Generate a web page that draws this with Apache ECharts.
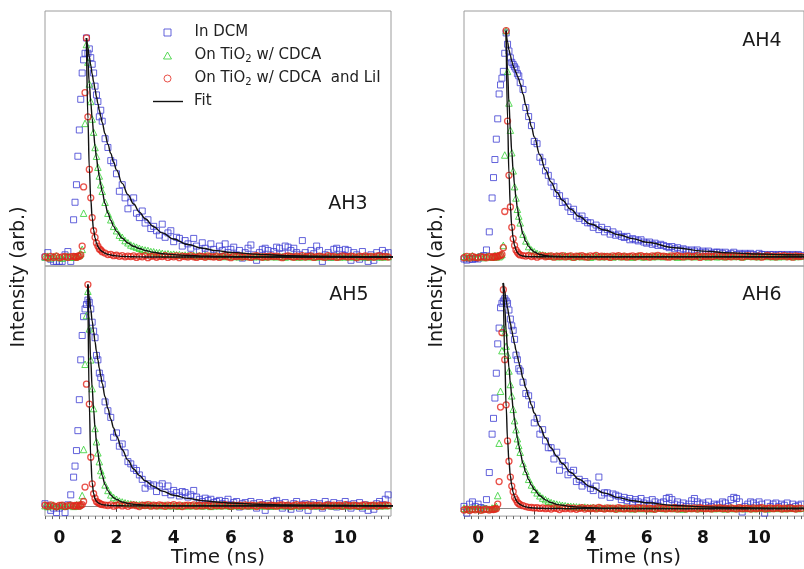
<!DOCTYPE html>
<html>
<head>
<meta charset="utf-8">
<script src="https://cdn.jsdelivr.net/npm/echarts@6/dist/echarts.min.js"></script>
<style>
  html, body { margin: 0; padding: 0; background: #fff; }
  #chart { width: 804px; height: 569px; }
</style>
</head>
<body>
<div id="chart"></div>
<script>
// ---- time grids (ns) ----
const T = [-0.5,-0.4,-0.3,-0.2,-0.1,0,0.1,0.2,0.3,0.4,0.5,
  0.55,0.6,0.65,0.7,0.75,0.8,0.85,0.9,0.95,1,1.05,1.1,1.15,1.2,1.25,1.3,1.35,1.4,1.45,1.5,
  1.6,1.7,1.8,1.9,2,2.1,2.2,2.3,2.4,2.5,
  2.6,2.7,2.8,2.9,3,3.1,3.2,3.3,3.4,3.5,
  3.6,3.7,3.8,3.9,4,4.1,4.2,4.3,4.4,4.5,
  4.6,4.7,4.8,4.9,5,5.1,5.2,5.3,5.4,5.5,
  5.6,5.7,5.8,5.9,6,6.1,6.2,6.3,6.4,6.5,
  6.6,6.7,6.8,6.9,7,7.1,7.2,7.3,7.4,7.5,
  7.6,7.7,7.8,7.9,8,8.1,8.2,8.3,8.4,8.5,
  8.6,8.7,8.8,8.9,9,9.1,9.2,9.3,9.4,9.5,
  9.6,9.7,9.8,9.9,10,10.1,10.2,10.3,10.4,10.5,
  10.6,10.7,10.8,10.9,11,11.1,11.2,11.3,11.4,11.5];

const FIT_T = [0.9,0.95,1,1.05,1.1,1.15,1.2,1.25,1.3,1.35,1.4,1.45,1.5,1.6,1.7,1.8,1.9,2,
  2.2,2.4,2.6,2.8,3,3.3,3.6,4,4.5,5,5.5,6,7,8,9,10,11,12];

const X_TICKS = [0, 2, 4, 6, 8, 10];
const X_MINOR_TICKS = [-0.5,-0.25,0,0.25,0.5,0.75,1,1.25,1.5,1.75,2,2.25,2.5,2.75,3,3.25,3.5,3.75,
  4,4.25,4.5,4.75,5,5.25,5.5,5.75,6,6.25,6.5,6.75,7,7.25,7.5,7.75,8,8.25,8.5,8.75,
  9,9.25,9.5,9.75,10,10.25,10.5,10.75,11,11.25,11.5];

const SERIES_NAMES = ['In DCM', 'On TiO2 w/ CDCA', 'On TiO2 w/ CDCA  and LiI', 'Fit'];
const PANEL_LABELS = ['AH3', 'AH4', 'AH5', 'AH6'];
const X_TITLE = 'Time (ns)';
const Y_TITLE = 'Intensity (arb.)';

// ---- AH3 ----
const AH3_DCM = [0.00,0.02,-0.01,-0.02,-0.02,-0.02,-0.02,0.01,0.025,-0.02,0.17,
  0.25,0.33,0.46,0.58,0.72,0.84,0.90,0.93,1.00,0.93,0.95,0.91,0.88,0.84,0.78,0.74,0.71,0.64,0.67,0.62,
  0.54,0.50,0.44,0.43,0.38,0.30,0.33,0.27,0.22,0.25,
  0.27,0.20,0.18,0.21,0.155,0.17,0.13,0.14,0.12,0.10,
  0.15,0.09,0.11,0.12,0.07,0.09,0.085,0.05,0.075,0.06,
  0.04,0.085,0.05,0.03,0.065,0.04,0.02,0.06,0.035,0.015,
  0.05,0.03,0.06,0.02,0.035,0.045,0.01,0.03,-0.005,0.02,
  0.04,0.055,0.01,-0.015,0.02,0.035,0.04,0.03,0.01,0.025,
  0.045,0.04,0.015,0.05,0.045,0.03,0.04,0.02,0.01,0.075,
  0.02,0.005,0.03,0.015,0.05,0.03,-0.02,0.01,0.02,0.0,
  0.035,0.04,0.03,0.01,0.035,0.03,-0.015,0.02,0.01,-0.01,
  0.025,0.0,-0.02,0.01,-0.015,0.02,0.005,0.03,0.015,0.02];
const AH3_CDCA = [0.0,0.004,-0.004,0.002,0.005,-0.002,-0.005,0.001,0.004,-0.001,0.002,
  0.0,0.003,0.005,0.008,0.015,0.035,0.20,0.61,0.97,0.89,0.79,0.71,0.63,0.57,0.50,0.46,0.41,0.37,0.33,0.30,
  0.25,0.20,0.17,0.14,0.12,0.10,0.09,0.075,0.065,0.055,
  0.05,0.045,0.04,0.035,0.032,0.03,0.025,0.024,0.02,0.02,
  0.017,0.014,0.015,0.012,0.013,0.01,0.011,0.008,0.009,0.007,
  0.006,0.008,0.005,0.006,0.004,0.007,0.003,0.005,0.004,0.006,
  0.003,0.005,0.002,0.004,0.006,0.002,0.004,0.001,0.005,0.003,
  0.002,0.004,0.001,0.005,0.002,0.003,0.0,0.004,0.002,0.003,
  0.001,0.004,0.002,0.0,0.003,0.005,0.001,0.003,0.0,0.002,
  0.004,0.001,0.003,0.002,0.0,0.004,0.002,0.001,0.003,0.0,
  0.002,0.004,0.0,0.003,0.001,0.002,0.004,0.0,0.002,0.003,
  0.001,0.003,0.0,0.002,0.004,0.001,0.002,0.0,0.003,0.002];
const AH3_LII = [0.002,-0.004,0.003,-0.002,0.004,-0.003,0.001,0.003,-0.002,0.002,0.003,
  0.002,-0.002,0.004,0.003,0.01,0.05,0.32,0.75,1.0,0.64,0.40,0.27,0.18,0.12,0.09,0.064,0.05,0.037,0.032,0.024,
  0.018,0.011,0.012,0.006,0.008,0.003,0.006,0.001,0.004,0.002,
  0.005,-0.002,0.004,0.001,0.006,-0.003,0.003,0.005,-0.001,0.004,
  0.002,0.006,-0.002,0.003,0.001,0.005,-0.003,0.004,0.002,0.0,
  0.006,0.001,-0.002,0.004,0.003,-0.001,0.005,0.002,0.0,0.004,
  -0.002,0.003,0.006,0.001,-0.003,0.004,0.002,0.005,0.0,0.003,
  0.001,-0.002,0.004,0.006,0.002,-0.001,0.003,0.0,0.005,0.002,
  0.004,0.001,-0.003,0.003,0.005,0.002,-0.001,0.004,0.001,0.006,
  0.0,0.003,0.005,-0.002,0.002,0.004,0.001,-0.001,0.006,0.002,
  0.003,-0.002,0.001,0.005,0.003,0.0,0.004,0.002,-0.003,0.004,
  0.002,0.005,0.0,0.003,-0.001,0.004,0.006,0.001,0.003,0.0];
const AH3_FIT_DCM = [null,1.0,0.956,0.914,0.875,0.836,0.80,0.765,0.732,0.70,0.67,0.641,0.614,
  0.563,0.515,0.473,0.433,0.398,0.336,0.285,0.242,0.205,0.175,0.138,0.11,0.082,0.057,0.04,0.029,0.021,
  0.012,0.006,0.0036,0.0022,0.0013,0.0008];
const AH3_FIT_CDCA = [null,1.0,0.891,0.793,0.707,0.633,0.565,0.506,0.454,0.408,0.367,0.33,0.298,
  0.244,0.201,0.168,0.14,0.117,0.086,0.064,0.049,0.039,0.03,0.022,0.015,0.011,0.0067,0.0043,0.0027,0.0017,
  0.0007,0.0003,0.0001,0,0,0];
const AH3_FIT_LII = [null,1.0,0.633,0.406,0.266,0.179,0.123,0.087,0.064,0.048,0.038,0.03,0.025,
  0.017,0.012,0.009,0.007,0.005,0.003,0.002,0.001,0.0007,0.0004,0.0002,0.0001,0,0,0,0,0,
  0,0,0,0,0,0];

// ---- AH4 ----
const AH4_DCM = [-0.01,-0.015,-0.01,-0.012,-0.008,-0.01,0.0,0.005,0.03,0.11,0.26,
  0.35,0.43,0.52,0.61,0.72,0.76,0.79,0.82,0.90,0.99,0.94,0.91,0.88,0.86,0.85,0.84,0.83,0.81,0.80,0.77,
  0.74,0.66,0.62,0.58,0.51,0.50,0.44,0.42,0.38,0.36,
  0.33,0.31,0.28,0.27,0.24,0.245,0.22,0.20,0.21,0.18,
  0.17,0.18,0.16,0.15,0.15,0.13,0.14,0.12,0.13,0.11,
  0.12,0.10,0.11,0.095,0.10,0.09,0.085,0.09,0.075,0.08,
  0.075,0.07,0.075,0.065,0.06,0.065,0.055,0.06,0.05,0.055,
  0.05,0.045,0.04,0.045,0.035,0.04,0.03,0.035,0.03,0.025,
  0.03,0.025,0.03,0.02,0.025,0.02,0.025,0.015,0.02,0.02,
  0.02,0.015,0.02,0.01,0.015,0.02,0.01,0.015,0.01,0.015,
  0.01,0.015,0.01,0.005,0.015,0.01,0.01,0.005,0.01,0.01,
  0.005,0.01,0.01,0.005,0.01,0.005,0.01,0.005,0.01,0.005];
const AH4_CDCA = [0.002,-0.003,0.001,0.004,-0.002,0.0,0.003,-0.004,0.002,0.001,-0.002,
  0.0,0.005,0.0,0.005,0.0,0.005,0.01,0.05,0.45,1.0,0.82,0.68,0.56,0.46,0.38,0.31,0.26,0.21,0.18,0.15,
  0.10,0.07,0.045,0.03,0.022,0.015,0.01,0.008,0.006,0.004,
  0.003,0.001,0.004,0.0,0.002,0.005,0.001,0.003,-0.001,0.002,
  0.004,0.0,0.002,0.003,-0.002,0.001,0.004,0.002,0.0,0.003,
  0.001,0.003,-0.001,0.002,0.004,0.0,0.003,0.001,0.002,-0.002,
  0.002,0.004,0.001,-0.001,0.003,0.002,0.0,0.004,0.001,0.003,
  0.0,0.002,0.004,0.001,0.003,-0.002,0.002,0.0,0.003,0.001,
  0.003,0.0,0.002,0.004,0.001,0.002,-0.001,0.003,0.002,0.0,
  0.001,0.003,0.0,0.002,0.004,0.001,0.003,0.002,-0.001,0.002,
  0.004,0.002,0.001,0.003,0.0,0.002,0.004,0.001,0.003,0.0,
  0.002,0.0,0.003,0.001,0.004,0.002,0.0,0.003,0.001,0.002];
const AH4_LII = [-0.004,0.002,-0.006,0.001,-0.003,-0.005,0.0,-0.002,-0.004,0.001,-0.003,
  0.001,-0.002,0.003,0.0,0.004,0.006,0.01,0.04,0.2,1.0,0.60,0.36,0.22,0.13,0.08,0.05,0.03,0.02,0.012,0.008,
  0.005,0.003,0.006,0.001,0.004,-0.002,0.003,0.005,0.0,0.002,
  0.004,-0.002,0.003,0.001,0.005,-0.001,0.002,0.004,-0.003,0.003,
  0.001,0.005,0.0,-0.002,0.004,0.002,0.006,-0.001,0.003,0.0,
  0.002,-0.003,0.004,0.001,0.005,0.0,0.003,-0.002,0.002,0.004,
  -0.001,0.003,0.005,0.0,0.002,-0.002,0.004,0.001,0.006,0.002,
  0.003,0.0,-0.002,0.004,0.001,0.005,0.002,-0.001,0.003,0.004,
  0.0,0.002,0.005,-0.003,0.003,0.001,0.004,0.0,0.002,0.006,
  0.002,0.004,-0.001,0.003,0.0,0.005,0.001,0.003,-0.002,0.002,
  0.005,0.001,0.003,0.0,0.004,-0.002,0.002,0.006,0.001,0.003,
  -0.001,0.004,0.002,0.005,0.0,0.003,-0.002,0.004,0.001,0.002];
const AH4_FIT_DCM = [null,null,1.0,0.95,0.915,0.89,0.865,0.845,0.83,0.815,0.80,0.785,0.765,
  0.72,0.67,0.62,0.575,0.53,0.45,0.385,0.33,0.285,0.25,0.21,0.178,0.145,0.118,0.097,0.08,0.064,
  0.04,0.025,0.017,0.012,0.009,0.007];
const AH4_FIT_CDCA = [null,null,1.0,0.825,0.681,0.562,0.463,0.382,0.316,0.26,0.215,0.177,0.146,
  0.10,0.068,0.046,0.031,0.021,0.01,0.005,0.002,0.001,0.0005,0.0002,0.0001,0,0,0,0,0,
  0,0,0,0,0,0];
const AH4_FIT_LII = [null,null,1.0,0.607,0.368,0.223,0.135,0.082,0.05,0.03,0.018,0.011,0.007,
  0.003,0.001,0.0005,0.0002,0.0001,0,0,0,0,0,0,0,0,0,0,0,0,
  0,0,0,0,0,0];

// ---- AH5 ----
const AH5_DCM = [0.01,0.0,-0.02,-0.01,-0.03,-0.01,0.0,-0.03,0.005,0.05,0.13,
  0.18,0.25,0.34,0.48,0.66,0.77,0.855,0.89,0.91,0.93,0.92,0.89,0.83,0.79,0.76,0.68,0.66,0.60,0.58,0.55,
  0.47,0.43,0.40,0.31,0.33,0.27,0.28,0.24,0.20,0.19,
  0.17,0.16,0.14,0.12,0.08,0.10,0.09,0.095,0.065,0.09,
  0.10,0.06,0.09,0.05,0.07,0.06,0.045,0.065,0.06,0.04,
  0.05,0.07,0.04,0.03,0.02,0.035,0.025,0.03,0.015,0.02,
  0.025,0.01,0.02,0.03,0.005,0.015,0.02,-0.005,0.01,0.015,
  0.0,0.02,0.01,-0.01,0.015,0.005,-0.02,0.01,0.0,0.02,
  0.025,0.01,-0.01,0.015,0.0,-0.015,0.01,0.02,-0.01,0.005,
  0.01,-0.02,0.005,0.015,0.0,0.01,-0.01,0.02,0.005,0.0,
  0.015,-0.005,0.01,0.0,0.02,0.005,-0.01,0.01,0.0,0.015,
  -0.01,0.005,-0.02,0.0,-0.015,0.01,0.02,0.005,0.03,0.05];
const AH5_CDCA = [0.001,-0.003,0.002,0.004,-0.002,0.0,0.003,-0.001,0.002,0.004,-0.002,
  0.0,0.005,0.0,0.005,0.01,0.047,0.255,0.64,0.86,0.97,0.80,0.66,0.53,0.44,0.35,0.29,0.24,0.20,0.16,0.14,
  0.095,0.07,0.05,0.038,0.03,0.022,0.018,0.014,0.011,0.009,
  0.007,0.006,0.005,0.004,0.004,0.003,0.005,0.002,0.003,0.001,
  0.002,0.004,0.0,0.003,0.001,0.002,-0.001,0.003,0.002,0.0,
  0.003,0.001,0.004,0.002,0.0,0.002,0.003,-0.002,0.001,0.004,
  0.0,0.002,0.003,0.001,-0.001,0.004,0.002,0.0,0.003,0.001,
  0.004,0.0,0.002,0.003,0.001,0.002,0.0,0.004,-0.001,0.002,
  0.001,0.003,0.0,0.002,0.004,-0.002,0.003,0.001,0.002,0.0,
  0.003,0.002,0.004,0.0,0.001,0.003,-0.001,0.002,0.004,0.001,
  0.0,0.003,0.001,0.002,0.004,0.0,0.002,0.003,0.001,-0.001,
  0.002,0.0,0.004,0.001,0.003,0.002,0.0,0.003,0.001,0.002];
const AH5_LII = [0.003,-0.002,0.005,0.0,-0.004,0.002,0.004,-0.003,0.001,0.003,-0.001,
  0.002,0.0,0.004,-0.002,0.003,0.006,0.02,0.085,0.55,1.0,0.46,0.22,0.10,0.055,0.035,0.02,0.015,0.012,0.008,0.006,
  0.004,0.002,0.005,-0.001,0.003,0.006,0.0,0.004,-0.002,0.003,
  0.005,0.001,-0.003,0.004,0.002,0.006,-0.001,0.003,0.0,0.005,
  0.002,-0.002,0.004,0.001,0.006,0.0,0.003,-0.003,0.002,0.004,
  0.001,0.005,-0.001,0.003,0.0,0.004,0.002,-0.002,0.005,0.001,
  0.003,0.0,0.006,0.002,-0.002,0.004,0.001,0.003,-0.001,0.005,
  0.0,0.004,0.002,-0.003,0.003,0.005,0.001,0.0,0.004,0.002,
  -0.001,0.003,0.005,0.001,0.004,-0.002,0.002,0.006,0.0,0.003,
  0.002,0.005,-0.001,0.003,0.001,0.004,-0.003,0.002,0.005,0.0,
  0.004,0.001,0.003,-0.002,0.006,0.002,0.0,0.004,0.001,-0.001,
  0.003,0.005,0.0,0.002,0.004,-0.002,0.003,0.001,0.005,0.002];
const AH5_FIT_DCM = [null,null,1.0,0.942,0.887,0.835,0.787,0.741,0.699,0.659,0.622,0.587,0.553,
  0.493,0.44,0.392,0.352,0.315,0.254,0.207,0.167,0.138,0.114,0.088,0.067,0.048,0.034,0.024,0.018,0.013,
  0.0075,0.0045,0.0027,0.0017,0.001,0.0006];
const AH5_FIT_CDCA = [null,null,1.0,0.809,0.656,0.533,0.435,0.355,0.291,0.24,0.197,0.163,0.137,
  0.096,0.069,0.049,0.037,0.029,0.018,0.011,0.007,0.005,0.0036,0.002,0.0007,0.0003,0.0001,0,0,0,
  0,0,0,0,0,0];
const AH5_FIT_LII = [null,null,1.0,0.454,0.214,0.105,0.056,0.033,0.021,0.015,0.011,0.008,0.006,
  0.004,0.003,0.002,0.0015,0.001,0.0005,0.0002,0.0001,0,0,0,0,0,0,0,0,0,
  0,0,0,0,0,0];

// ---- AH6 ----
const AH6_DCM = [0.01,-0.02,0.02,0.03,0.01,0.02,0.005,0.0,0.04,0.16,0.33,
  0.40,0.49,0.60,0.73,0.80,0.89,0.91,0.92,0.93,0.92,0.91,0.88,0.84,0.81,0.79,0.75,0.68,0.66,0.62,0.61,
  0.56,0.51,0.50,0.46,0.38,0.40,0.33,0.35,0.30,0.27,
  0.27,0.22,0.25,0.17,0.21,0.19,0.15,0.16,0.17,0.12,
  0.13,0.10,0.12,0.11,0.09,0.08,0.10,0.14,0.06,0.07,
  0.07,0.05,0.065,0.06,0.055,0.04,0.05,0.035,0.045,0.03,
  0.04,0.03,0.045,0.025,0.035,0.02,0.04,0.03,0.015,0.025,
  0.03,0.045,0.05,0.04,0.02,0.03,0.015,0.025,0.01,0.02,
  0.035,0.045,0.03,0.02,0.025,0.015,0.03,0.01,0.02,0.015,
  0.02,0.03,0.025,0.01,0.04,0.05,0.045,0.03,-0.015,0.01,
  0.02,0.03,0.025,0.015,0.03,0.02,-0.02,0.025,0.01,0.02,
  0.025,0.01,0.02,0.015,0.025,0.005,0.02,0.01,0.015,0.02];
const AH6_CDCA = [0.002,-0.003,0.001,-0.001,0.003,0.0,-0.004,0.002,0.001,-0.002,0.003,
  0.0,0.005,0.01,0.058,0.29,0.52,0.70,0.80,0.78,0.72,0.68,0.61,0.55,0.50,0.44,0.39,0.35,0.31,0.28,0.25,
  0.20,0.165,0.13,0.105,0.085,0.07,0.057,0.047,0.04,0.033,
  0.027,0.023,0.02,0.017,0.015,0.013,0.011,0.01,0.009,0.008,
  0.007,0.006,0.007,0.005,0.004,0.005,0.003,0.004,0.002,0.003,
  0.002,0.004,0.001,0.003,0.0,0.002,0.004,0.001,0.003,-0.001,
  0.002,0.003,0.0,0.004,0.001,0.002,-0.001,0.003,0.002,0.004,
  0.0,0.002,0.003,0.001,0.004,0.0,0.002,-0.002,0.003,0.001,
  0.003,0.001,0.004,0.0,0.002,0.003,0.001,0.002,0.0,0.004,
  0.001,0.003,-0.001,0.002,0.004,0.0,0.003,0.001,0.002,0.0,
  0.004,0.002,0.0,0.003,0.001,0.002,0.004,-0.001,0.003,0.002,
  0.001,0.003,0.002,0.0,0.004,0.001,0.002,0.003,0.0,0.002];
const AH6_LII = [-0.006,-0.002,-0.008,-0.003,-0.005,-0.001,-0.007,-0.004,-0.002,-0.006,-0.003,
  -0.004,-0.001,0.0,0.02,0.12,0.45,0.78,0.97,0.66,0.46,0.30,0.21,0.14,0.10,0.075,0.05,0.04,0.028,0.022,0.018,
  0.013,0.009,0.006,0.005,0.003,0.004,0.001,0.003,0.0,0.002,
  -0.002,0.003,0.001,-0.004,0.002,0.0,0.004,-0.001,0.002,-0.003,
  0.001,0.004,-0.002,0.002,0.0,0.003,-0.001,0.005,0.001,-0.002,
  0.003,0.0,0.002,-0.003,0.004,0.001,-0.001,0.003,0.0,0.002,
  -0.002,0.004,0.001,0.003,-0.001,0.002,0.0,-0.003,0.004,0.001,
  0.002,-0.001,0.003,0.0,0.005,-0.002,0.001,0.003,-0.001,0.002,
  0.0,0.003,-0.002,0.004,0.001,0.0,0.002,-0.001,0.003,0.001,
  0.004,0.0,0.002,-0.002,0.003,0.001,-0.001,0.004,0.0,0.002,
  0.001,-0.002,0.003,0.0,0.002,0.004,-0.001,0.001,0.003,0.0,
  0.002,0.004,-0.001,0.002,0.0,0.003,0.001,-0.002,0.002,0.001];
const AH6_FIT_DCM = [1.0,0.961,0.924,0.888,0.854,0.821,0.79,0.759,0.73,0.702,0.675,0.649,0.625,
  0.578,0.535,0.495,0.459,0.424,0.364,0.313,0.269,0.232,0.20,0.16,0.129,0.097,0.069,0.049,0.035,0.026,
  0.014,0.008,0.005,0.003,0.002,0.001];
const AH6_FIT_CDCA = [1.0,0.889,0.791,0.703,0.625,0.557,0.496,0.442,0.394,0.351,0.313,0.28,0.249,
  0.2,0.161,0.129,0.105,0.085,0.057,0.039,0.027,0.019,0.015,0.0095,0.0066,0.0043,0.0025,0.0016,0.001,0.0007,
  0.0003,0.0001,0,0,0,0];
const AH6_FIT_LII = [1.0,0.67,0.452,0.306,0.21,0.145,0.102,0.072,0.052,0.038,0.029,0.023,0.018,
  0.012,0.008,0.005,0.004,0.003,0.002,0.001,0.0007,0.0004,0.0003,0.0001,0,0,0,0,0,0,
  0,0,0,0,0,0];

// ---- layout & style ----
const FONT = 'DejaVu Sans';
const COLORS = ['#3c3cd2', '#2fd02f', '#e3261c'];
const SYMBOLS = ['rect', 'triangle', 'circle'];
const SYMBOL_SIZES = [6, 6.5, 6];
const BORDER_WIDTHS = [1, 1, 1.3];
const X_MIN = -0.5, X_MAX = 11.6;

// panel order: AH3 (top-left), AH4 (top-right), AH5 (bottom-left), AH6 (bottom-right)
const PANELS = [
  { label: PANEL_LABELS[0], grid: { left: 45, top: 11, width: 346, height: 255 }, bottom: false,
    yRange: [-0.041, 1.123], data: [AH3_DCM, AH3_CDCA, AH3_LII], fits: [AH3_FIT_DCM, AH3_FIT_CDCA, AH3_FIT_LII],
    labelPos: [348, 204] },
  { label: PANEL_LABELS[1], grid: { left: 464, top: 11, width: 346, height: 255 }, bottom: false,
    yRange: [-0.041, 1.087], data: [AH4_DCM, AH4_CDCA, AH4_LII], fits: [AH4_FIT_DCM, AH4_FIT_CDCA, AH4_FIT_LII],
    labelPos: [762, 41] },
  { label: PANEL_LABELS[2], grid: { left: 45, top: 266, width: 346, height: 255 }, bottom: true,
    yRange: [-0.046, 1.084], data: [AH5_DCM, AH5_CDCA, AH5_LII], fits: [AH5_FIT_DCM, AH5_FIT_CDCA, AH5_FIT_LII],
    labelPos: [349, 295] },
  { label: PANEL_LABELS[3], grid: { left: 464, top: 266, width: 346, height: 255 }, bottom: true,
    yRange: [-0.033, 1.075], data: [AH6_DCM, AH6_CDCA, AH6_LII], fits: [AH6_FIT_DCM, AH6_FIT_CDCA, AH6_FIT_LII],
    labelPos: [762, 295] }
];

const grids = [], xAxes = [], yAxes = [], series = [], graphics = [];

PANELS.forEach(function (p, gi) {
  grids.push(Object.assign({ show: true, borderColor: '#9c9c9c', borderWidth: 1, backgroundColor: 'transparent' }, p.grid));
  yAxes.push({ gridIndex: gi, type: 'value', min: p.yRange[0], max: p.yRange[1], show: false });
  const xi = xAxes.length;
  if (p.bottom) {
    xAxes.push({
      gridIndex: gi, type: 'value', min: X_MIN, max: X_MAX, position: 'bottom',
      axisLine: { show: true, lineStyle: { color: '#8c8c8c', width: 1 } },
      axisTick: { show: true, customValues: X_TICKS, length: 6, lineStyle: { color: '#444' } },
      axisLabel: { customValues: X_TICKS, margin: 14, fontFamily: FONT, fontWeight: 'bold', fontSize: 17, color: '#111' },
      splitLine: { show: false },
      name: X_TITLE, nameLocation: 'middle', nameGap: 26,
      nameTextStyle: { fontFamily: FONT, fontSize: 20, color: '#1a1a1a' }
    });
    xAxes.push({
      gridIndex: gi, type: 'value', min: X_MIN, max: X_MAX, position: 'bottom',
      axisLine: { show: false },
      axisTick: { show: true, customValues: X_MINOR_TICKS, length: 3, lineStyle: { color: '#666' } },
      axisLabel: { show: false }, splitLine: { show: false }
    });
  } else {
    xAxes.push({ gridIndex: gi, type: 'value', min: X_MIN, max: X_MAX, show: false });
  }

  p.data.forEach(function (ys, k) {
    series.push({
      name: SERIES_NAMES[k], type: 'scatter', xAxisIndex: xi, yAxisIndex: gi,
      symbol: SYMBOLS[k], symbolSize: SYMBOL_SIZES[k],
      itemStyle: { color: 'rgba(0,0,0,0)', borderColor: COLORS[k], borderWidth: BORDER_WIDTHS[k] },
      emphasis: { disabled: true }, silent: true,
      data: T.map(function (t, i) { return [t, ys[i]]; })
    });
  });
  p.fits.forEach(function (ys) {
    series.push({
      name: SERIES_NAMES[3], type: 'line', xAxisIndex: xi, yAxisIndex: gi,
      showSymbol: false, smooth: 0.4, smoothMonotone: 'x',
      lineStyle: { color: '#111', width: 1.4 }, itemStyle: { color: '#111' },
      emphasis: { disabled: true }, silent: true, z: 3,
      data: FIT_T.map(function (t, i) { return [t, ys[i]]; }).filter(function (d) { return d[1] !== null; })
    });
  });

  graphics.push({
    type: 'text', x: p.labelPos[0], y: p.labelPos[1], silent: true,
    style: { text: p.label, fontFamily: FONT, fontSize: 19, fill: '#1a1a1a', align: 'center', verticalAlign: 'middle' }
  });
});

// vertical axis titles, one per column
[19, 437].forEach(function (x) {
  graphics.push({
    type: 'text', x: x, y: 277, rotation: Math.PI / 2, silent: true,
    style: { text: Y_TITLE, fontFamily: FONT, fontSize: 19, fill: '#1a1a1a', align: 'center', verticalAlign: 'middle' }
  });
});

// legend with subscript in "TiO2"
function legendLabel(name) {
  const parts = name.split('TiO2');
  if (name === 'Fit') return '{sp| }{t|Fit}';
  if (parts.length === 1) return '{t|' + name + '}';
  return '{t|' + parts[0] + 'TiO}{sub|2}{t|' + parts[1] + '}';
}
const LEGEND_RICH = {
  t: { fontFamily: FONT, fontSize: 15, color: '#222', lineHeight: 18 },
  sub: { fontFamily: FONT, fontSize: 10, color: '#222', lineHeight: 10, verticalAlign: 'bottom' },
  sp: { width: 6, fontSize: 15, lineHeight: 18 }
};
function legendItem(name, top, left, icon, w, h, style) {
  return {
    data: [name], top: top, left: left, icon: icon, itemWidth: w, itemHeight: h,
    padding: 0, selectedMode: false, itemStyle: style, formatter: legendLabel,
    textStyle: { rich: LEGEND_RICH }
  };
}
const legends = [
  legendItem(SERIES_NAMES[0], 25, 163.5, 'path://M0,0L7,0L7,7L0,7Z', 44, 7,
    { color: 'rgba(0,0,0,0)', borderColor: COLORS[0], borderWidth: 1 }),
  legendItem(SERIES_NAMES[1], 48, 163, 'path://M4,0L8,7L0,7Z', 44, 7,
    { color: 'rgba(0,0,0,0)', borderColor: COLORS[1], borderWidth: 1 }),
  legendItem(SERIES_NAMES[2], 71, 163.5, 'circle', 44, 7,
    { color: 'rgba(0,0,0,0)', borderColor: COLORS[2], borderWidth: 1 }),
  legendItem(SERIES_NAMES[3], 94, 153, 'rect', 30, 1.4,
    { color: '#111', borderWidth: 0 })
];

const chart = echarts.init(document.getElementById('chart'), null, { renderer: 'canvas' });
chart.setOption({
  animation: false,
  backgroundColor: '#ffffff',
  grid: grids,
  xAxis: xAxes,
  yAxis: yAxes,
  legend: legends,
  graphic: graphics,
  series: series
});
</script>
</body>
</html>
